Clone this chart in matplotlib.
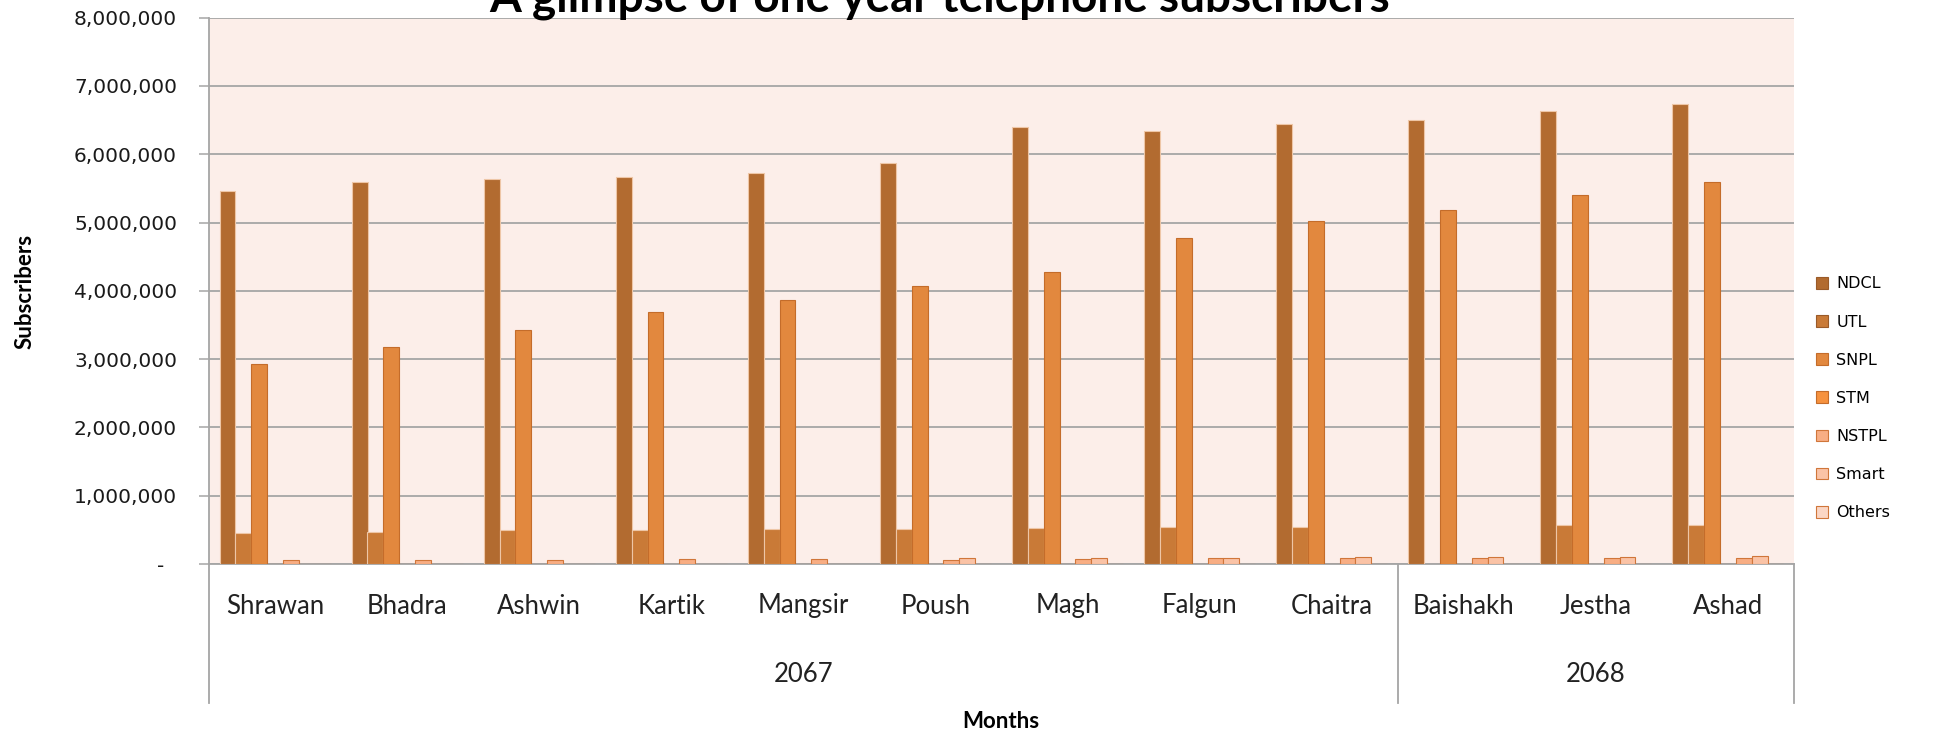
import numpy as np
import matplotlib
matplotlib.use("Agg")
import matplotlib.pyplot as plt
from matplotlib.patches import Patch
from matplotlib.ticker import FuncFormatter

months = ["Shrawan", "Bhadra", "Ashwin", "Kartik", "Mangsir", "Poush",
          "Magh", "Falgun", "Chaitra", "Baishakh", "Jestha", "Ashad"]
years = ["2067", "2068"]
year_sizes = [9, 3]

ndcl = [5460000, 5600000, 5640000, 5660000, 5720000, 5870000,
        6400000, 6340000, 6440000, 6500000, 6630000, 6735000]
utl = [458000, 473000, 493000, 493000, 508000, 508000,
       527000, 546000, 546000, 0, 571000, 571000]
snpl = [2930000, 3180000, 3430000, 3690000, 3870000, 4070000,
        4270000, 4770000, 5030000, 5190000, 5410000, 5600000]
stm = [0, 0, 0, 0, 0, 0, 0, 0, 0, 0, 0, 0]
nstpl = [54000, 54000, 54000, 73000, 73000, 63000,
         68000, 88000, 88000, 88000, 88000, 88000]
smart = [0, 0, 0, 0, 0, 88000, 88000, 88000, 107000, 107000, 107000, 122000]
others = [0, 0, 0, 0, 0, 0, 0, 0, 0, 0, 0, 0]

series = ["NDCL", "UTL", "SNPL", "STM", "NSTPL", "Smart", "Others"]
values = [ndcl, utl, snpl, stm, nstpl, smart, others]
colors = ["#B26B30", "#C97A37", "#E2883E", "#F6923F", "#F8AE84", "#FAC3A6", "#FBD6C4"]
edges = ["#EEC6A6", "#EEC6A6", "#C46C2A", "#C46C2A", "#D0763A", "#D0763A", "#D0763A"]

GRID = "#A5A5A5"
BG = "#FCEEE9"

fig = plt.figure(figsize=(19.4, 7.35), dpi=100)
ax = fig.add_axes([209 / 1940, 1 - 564 / 735, (1794 - 209) / 1940, (564 - 17.7) / 735])
ax.set_facecolor(BG)

x = np.arange(len(months))
w = 0.12
for k, (name, vals) in enumerate(zip(series, values)):
    ax.bar(x + (k - 3) * w, vals, width=w, color=colors[k], edgecolor=edges[k],
           linewidth=0.8, zorder=3)

ax.set_xlim(-0.5, len(months) - 0.5)
ax.set_ylim(0, 8000000)
ax.set_yticks(np.arange(0, 8000001, 1000000))
ax.yaxis.set_major_formatter(FuncFormatter(lambda v, p: "-  " if v == 0 else f"{v:,.0f}"))
ax.tick_params(axis="y", length=7, width=1.1, color=GRID, pad=16,
               labelsize=14.5, labelcolor="#1a1a1a")
ax.set_xticks([])
ax.grid(axis="y", color=GRID, linewidth=1.3, zorder=1)
for s in ["top", "right"]:
    ax.spines[s].set_visible(False)
for s in ["left", "bottom"]:
    ax.spines[s].set_color(GRID)
    ax.spines[s].set_linewidth(1.3)

# two-level category axis: months, then years with separators
tr = ax.get_xaxis_transform()
h = 564 - 17.7
for i, m in enumerate(months):
    ax.text(i, -42 / h, m, transform=tr, ha="center", va="center",
            fontsize=18.5, family="Lato", color="#222222")
start = -0.5
bounds = [start]
for yr, n in zip(years, year_sizes):
    ax.text(start + n / 2, -110 / h, yr, transform=tr, ha="center", va="center",
            fontsize=18.5, family="Lato", color="#222222")
    start += n
    bounds.append(start)
for b in bounds:
    ax.plot([b, b], [0, -139 / h], transform=tr, color=GRID, linewidth=1.3, clip_on=False)

fig.text(940 / 1940, 1 - 11 / 735, "A glimpse of one year telephone subscribers",
         ha="center", va="baseline", fontsize=33, fontweight="bold", family="Lato")
fig.text(1001 / 1940, 1 - 721 / 735, "Months", ha="center", va="center",
         fontsize=16, fontweight="bold", family="Lato")
fig.text(25 / 1940, 1 - 291 / 735, "Subscribers", ha="center", va="center",
         rotation=90, fontsize=16, fontweight="bold", family="Lato")

handles = [Patch(facecolor=c, edgecolor=e if k > 1 else "#9A5A28", linewidth=0.8)
           for k, (c, e) in enumerate(zip(colors, edges))]
fig.legend(handles, series, loc="upper left", bbox_to_anchor=(1810 / 1940, 1 - 270 / 735),
           frameon=False, fontsize=11.5, handlelength=0.75, handleheight=0.75,
           handletextpad=0.5, labelspacing=1.45, borderaxespad=0)

fig.savefig("out.png", dpi=100)
